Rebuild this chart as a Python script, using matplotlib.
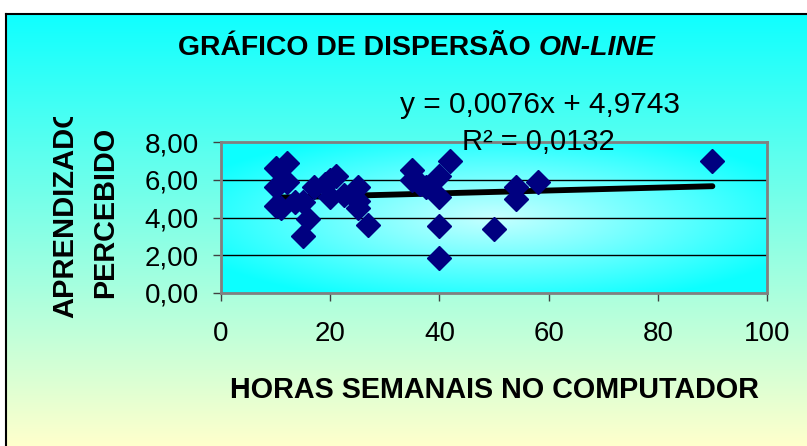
import numpy as np
import matplotlib
matplotlib.use("Agg")
import matplotlib.pyplot as plt
from matplotlib.lines import Line2D
from matplotlib.patches import Rectangle

# dados
horas = [10, 12, 10, 12, 10, 11, 13.5, 15, 16, 15,
         17, 19, 20, 21, 20, 22.5, 25, 25, 25, 27,
         35, 35, 36.5, 37.5, 40, 42, 40, 40, 40, 50,
         54, 54, 58, 90]
aprendizado = [6.6, 6.9, 5.6, 5.9, 4.6, 4.5, 4.8, 4.8, 3.9, 3.0,
               5.6, 5.8, 5.1, 6.2, 6.0, 5.2, 5.6, 4.5, 4.9, 3.6,
               6.5, 6.0, 5.75, 5.6, 6.2, 7.0, 5.1, 3.55, 1.85, 3.4,
               5.6, 5.0, 5.9, 7.0]
slope, intercept = 0.0076, 4.9743
x_ticks = [0, 20, 40, 60, 80, 100]
y_ticks = [0, 2, 4, 6, 8]
y_tick_labels = ["0,00", "2,00", "4,00", "6,00", "8,00"]

fam = ["Liberation Sans", "DejaVu Sans"]
W, H = 807, 446
fig = plt.figure(figsize=(W / 100, H / 100), dpi=100)
fig.patch.set_facecolor("white")

# fundo em degradê (ciano -> amarelo claro)
bg = fig.add_axes([6 / W, 0, 1 - 6 / W, (H - 14) / H], zorder=-2)
top_c = np.array([0.06, 1.0, 1.0])
bot_c = np.array([1.0, 1.0, 0.80])
t = np.linspace(0, 1, 200)[:, None]
grad = top_c * (1 - t) + bot_c * t
bg.imshow(grad[:, None, :].repeat(2, axis=1), aspect="auto", extent=[0, 1, 0, 1])
bg.set_axis_off()
fig.add_artist(Line2D([6 / W, 6 / W], [0, (H - 14) / H], color="black", lw=1.5, transform=fig.transFigure))
fig.add_artist(Line2D([6 / W, 1], [(H - 14) / H, (H - 14) / H], color="black", lw=1.5, transform=fig.transFigure))

# área do gráfico
ax = fig.add_axes([221 / W, (H - 293) / H, (767 - 221) / W, (293 - 142) / H])
yy, xx = np.mgrid[-1:1:120j, -1:1:240j]
d = np.clip(np.sqrt(xx ** 2 + yy ** 2) / 1.2, 0, 1)
center_c = np.array([0.78, 1.0, 1.0])
edge_c = np.array([0.05, 1.0, 1.0])
img = center_c * (1 - d[..., None]) + edge_c * d[..., None]
ax.imshow(img, aspect="auto", extent=[0, 100, 0, 8], zorder=0)

ax.set_xlim(0, 100)
ax.set_ylim(0, 8)
for yv in y_ticks[1:-1]:
    ax.axhline(yv, color="black", lw=1, zorder=1)

ax.plot([min(horas), max(horas)],
        [slope * min(horas) + intercept, slope * max(horas) + intercept],
        color="black", lw=4.2, solid_capstyle="round", zorder=2)
ax.plot(horas, aprendizado, linestyle="none", marker="D", markersize=12,
        color="#000080", zorder=3)

for s in ax.spines.values():
    s.set_color("#808080")
    s.set_linewidth(2)
ax.set_xticks(x_ticks)
ax.set_yticks(y_ticks)
ax.set_yticklabels(y_tick_labels)
ax.tick_params(axis="both", direction="out", length=6, width=1, color="#404040",
               labelsize=20)
ax.tick_params(axis="y", pad=10)
ax.tick_params(axis="x", pad=14)
for lab in ax.get_xticklabels() + ax.get_yticklabels():
    lab.set_family(fam)

# título: parte normal + parte em itálico
t1 = fig.text(178 / W, 1 - 48 / H, "GRÁFICO DE DISPERSÃO ", family=fam, fontsize=20.4,
              fontweight="bold", ha="left", va="center")
fig.canvas.draw()
x1 = t1.get_window_extent().x1 / W
fig.text(x1, 1 - 48 / H, "ON-LINE", family=fam, fontsize=20.4,
         fontweight="bold", style="italic", ha="left", va="center")

fig.text(540 / W, 1 - 105 / H, "y = 0,0076x + 4,9743", family=fam, fontsize=21.5,
         ha="center", va="center")
fig.text(538 / W, 1 - 142 / H, "R² = 0,0132", family=fam, fontsize=21,
         ha="center", va="center")
fig.text(494 / W, 1 - 390 / H, "HORAS SEMANAIS NO COMPUTADOR", family=fam,
         fontsize=20.7, fontweight="bold", ha="center", va="center")

# rótulo do eixo y (primeira linha cortada no topo, como no original)
lab1 = fig.text(65 / W, 1 - 318 / H, "APRENDIZADO", family=fam, fontsize=21,
                fontweight="bold", rotation=90, ha="center", va="bottom")
clip = Rectangle((0, 0), 1, 1 - 117 / H, transform=fig.transFigure)
lab1.set_clip_path(clip)
lab1.set_clip_on(True)
fig.text(105 / W, 1 - 212 / H, "PERCEBIDO", family=fam, fontsize=20.8,
         fontweight="bold", rotation=90, ha="center", va="center")

fig.savefig("out.png", dpi=100)
